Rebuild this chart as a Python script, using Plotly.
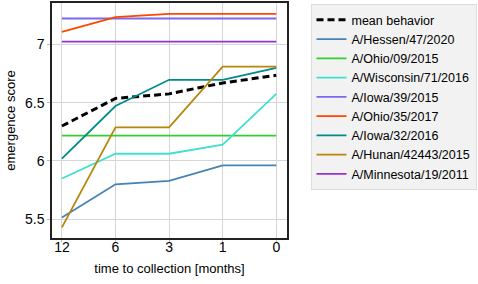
import plotly.graph_objects as go

months = ["12", "6", "3", "1", "0"]
mean_behavior = [6.30, 6.537, 6.576, 6.67, 6.735]
hessen = [5.515, 5.80, 5.83, 5.963, 5.963]
ohio09 = [6.218, 6.218, 6.218, 6.218, 6.218]
wisconsin = [5.85, 6.062, 6.062, 6.141, 6.576]
iowa39 = [7.223, 7.223, 7.223, 7.223, 7.223]
ohio35 = [7.108, 7.235, 7.263, 7.263, 7.263]
iowa32 = [6.02, 6.472, 6.697, 6.697, 6.80]
hunan = [5.43, 6.288, 6.288, 6.81, 6.81]
minnesota = [7.025, 7.025, 7.025, 7.025, 7.025]

series = [
    ("A/Hessen/47/2020", hessen, "#4682b4"),
    ("A/Ohio/09/2015", ohio09, "#32cd32"),
    ("A/Wisconsin/71/2016", wisconsin, "#40e0d0"),
    ("A/Iowa/39/2015", iowa39, "#7b68ee"),
    ("A/Ohio/35/2017", ohio35, "#ff4500"),
    ("A/Iowa/32/2016", iowa32, "#008b8b"),
    ("A/Hunan/42443/2015", hunan, "#b8860b"),
    ("A/Minnesota/19/2011", minnesota, "#9932cc"),
]

fig = go.Figure()
fig.add_trace(go.Scatter(x=months, y=mean_behavior, mode="lines", name="mean behavior",
                         line=dict(color="black", width=3, dash="7px,4px")))
for name, vals, col in series:
    fig.add_trace(go.Scatter(x=months, y=vals, mode="lines", name=name,
                             line=dict(color=col, width=1.8)))

fig.update_layout(
    width=478, height=284,
    margin=dict(l=52, r=189, t=1, b=46),
    paper_bgcolor="white", plot_bgcolor="white",
    font=dict(family="Liberation Sans, Arial, sans-serif", size=13, color="black"),
    legend=dict(x=1.1, y=0.995, xanchor="left", yanchor="top",
                bgcolor="#f2f2f2", bordercolor="#dddddd", borderwidth=1,
                itemwidth=30,
                font=dict(size=12.5), tracegroupgap=0),
    showlegend=True,
)
fig.update_xaxes(type="category", range=[-0.185, 4.2],
                 showgrid=True, gridcolor="#d6d6d6", gridwidth=1,
                 showline=True, linecolor="#222222", linewidth=1.5, mirror=True,
                 ticks="outside", ticklen=2, tickcolor="#bbbbbb",
                 ticklabelstandoff=-7,
                 tickfont=dict(size=14),
                 title=dict(text="time to collection [months]", font=dict(size=13), standoff=10))
fig.update_yaxes(range=[5.339, 7.356],
                 tickvals=[5.5, 6, 6.5, 7], ticktext=["5.5", "6", "6.5", "7"],
                 showgrid=True, gridcolor="#d6d6d6", gridwidth=1, zeroline=False,
                 showline=True, linecolor="#222222", linewidth=1.5, mirror=True,
                 ticks="outside", ticklen=3, tickcolor="#bbbbbb",
                 tickfont=dict(size=14),
                 title=dict(text="emergence score", font=dict(size=13), standoff=6))

fig.write_html("out.html", config={"displayModeBar": False},
               post_script="document.body.style.margin='0';")
